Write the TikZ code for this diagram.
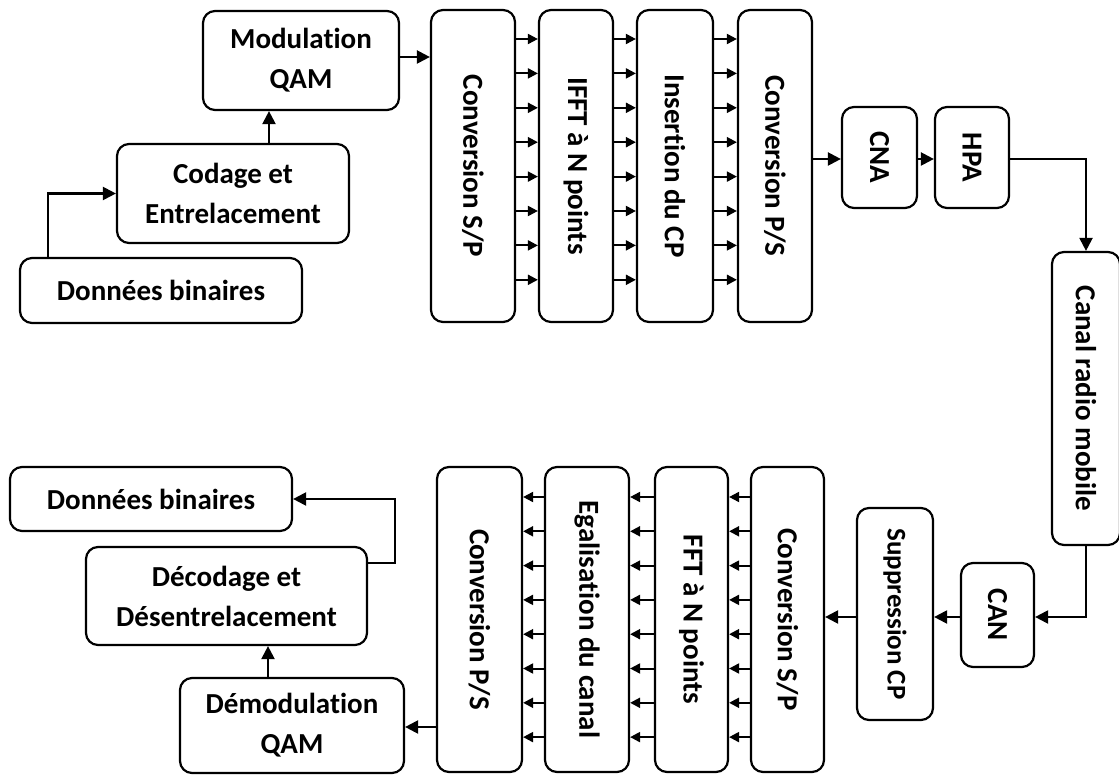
\documentclass[tikz,border=0pt]{standalone}
\usepackage{fontspec}
\setmainfont{Carlito}[Ligatures=NoCommon]
\usepackage{graphicx}
\usetikzlibrary{arrows.meta}
\begin{document}
\begin{tikzpicture}[x=1pt,y=-1pt,
  box/.style={draw,line width=2.2pt,rounded corners=12pt,inner sep=0pt,align=center,
    font=\fontsize{29}{40}\selectfont\bfseries},
  arr/.style={line width=2.2pt,-{Triangle[length=13pt,width=13pt]}},
  sarr/.style={line width=2pt,-{Triangle[length=10pt,width=10pt]}}]
\useasboundingbox (0,0) rectangle (1119,775);

% emitter
\node[box,minimum width=196,minimum height=99] (mod) at (301,60.5) {Modulation\\QAM};
\node[box,minimum width=232,minimum height=99] (cod) at (233,193.5) {Codage et\\Entrelacement};
\node[box,minimum width=282,minimum height=65] (don1) at (161,290.5) {Données binaires};
\node[box,minimum width=84,minimum height=312] (sp1) at (473,166) {\rotatebox{-90}{Conversion S/P}};
\node[box,minimum width=74,minimum height=312] (ifft) at (576,166) {\rotatebox{-90}{IFFT à N points}};
\node[box,minimum width=76,minimum height=312] (ins) at (675,166) {\rotatebox{-90}{Insertion du CP}};
\node[box,minimum width=74,minimum height=312] (ps1) at (775,166) {\rotatebox{-90}{Conversion P/S}};
\node[box,minimum width=75,minimum height=101] (cna) at (879.5,157.5) {\rotatebox{-90}{CNA}};
\node[box,minimum width=74,minimum height=101] (hpa) at (972,157.5) {\rotatebox{-90}{HPA}};

% channel
\node[box,minimum width=68,minimum height=293] (canal) at (1086,398.5) {\rotatebox{-90}{Canal radio mobile}};

% receiver
\node[box,minimum width=73,minimum height=104] (can) at (997.5,615) {\rotatebox{-90}{CAN}};
\node[box,minimum width=76,minimum height=212,font=\fontsize{27}{36}\selectfont\bfseries] (supp) at (895,614) {\rotatebox{-90}{Suppression CP}};
\node[box,minimum width=73,minimum height=305] (sp2) at (787.5,619.5) {\rotatebox{-90}{Conversion S/P}};
\node[box,minimum width=73,minimum height=305] (fft) at (691.5,619.5) {\rotatebox{-90}{FFT à N points}};
\node[box,minimum width=84,minimum height=305] (ega) at (587,619.5) {\rotatebox{-90}{Egalisation du canal}};
\node[box,minimum width=85,minimum height=305] (ps2) at (479.5,619.5) {\rotatebox{-90}{Conversion P/S}};
\node[box,minimum width=224,minimum height=95] (dem) at (292,725.5) {Démodulation\\QAM};
\node[box,minimum width=281,minimum height=98] (dec) at (226.5,596) {Décodage et\\Désentrelacement};
\node[box,minimum width=282,minimum height=64] (don2) at (151,499) {Données binaires};

% emitter links
\draw[arr] (don1.north -| 48,0) |- (cod.west);
\draw[arr] (cod.north -| 269,0) -- (mod.south -| 269,0);
\draw[arr] (mod.east |- 0,57) -- (sp1.west |- 0,57);
\foreach \y in {39,73.4,107.8,142.2,176.6,211,245.4,279.8}{
  \draw[sarr] (sp1.east |- 0,\y) -- (ifft.west |- 0,\y);
  \draw[sarr] (ifft.east |- 0,\y) -- (ins.west |- 0,\y);
  \draw[sarr] (ins.east |- 0,\y) -- (ps1.west |- 0,\y);
}
\draw[arr] (ps1.east |- 0,159) -- (cna.west |- 0,159);
\draw[arr] (cna.east |- 0,159) -- (hpa.west |- 0,159);
\draw[arr] (hpa.east |- 0,159) -| (canal.north);

% receiver links
\draw[arr] (canal.south) |- (can.east |- 0,617);
\draw[arr] (can.west |- 0,617) -- (supp.east |- 0,617);
\draw[arr] (supp.west |- 0,617) -- (sp2.east |- 0,617);
\foreach \y in {497,531.3,565.6,599.9,634.2,668.5,702.8,737.1}{
  \draw[sarr] (sp2.west |- 0,\y) -- (fft.east |- 0,\y);
  \draw[sarr] (fft.west |- 0,\y) -- (ega.east |- 0,\y);
  \draw[sarr] (ega.west |- 0,\y) -- (ps2.east |- 0,\y);
}
\draw[arr] (ps2.west |- 0,727) -- (dem.east |- 0,727);
\draw[arr] (dem.north -| 268,0) -- (dec.south -| 268,0);
\draw[arr] (dec.east |- 0,563) -- (395,563) |- (don2.east);
\end{tikzpicture}
\end{document}
